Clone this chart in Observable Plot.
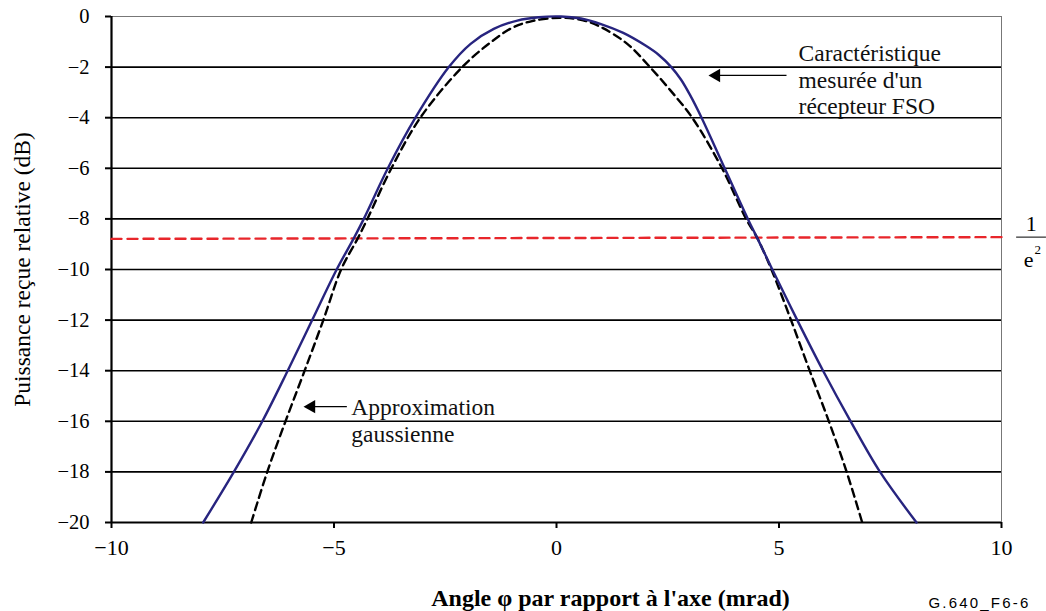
<!DOCTYPE html>
<html>
<head>
<meta charset="utf-8">
<script src="https://cdn.jsdelivr.net/npm/d3@7"></script>
<script src="https://cdn.jsdelivr.net/npm/@observablehq/plot@0.6"></script>
<style>
  html, body { margin: 0; padding: 0; background: white; }
  #chart svg text { font-family: "Liberation Serif", "Times New Roman", serif; }
  #chart svg text.sans { font-family: "Liberation Sans", Arial, sans-serif; letter-spacing: 2.2px; }
</style>
</head>
<body>
<div id="chart"></div>
<script>
// Measured characteristic of an FSO receiver (solid blue)
const measuredX = [-7.94,-7.25,-6.61,-6.04,-5.49,-4.94,-4.55,-4.33,-3.79,-3.17,-2.42,-1.93,-1.41,-0.88,-0.4,0.1,0.55,1.0,1.5,2.0,2.3,2.58,2.8,3.0,3.26,3.78,4.30,4.51,4.85,5.41,5.99,6.61,7.27,8.09];
const measuredY = [-20,-18,-16,-14,-12,-10,-8.75,-8,-6,-4,-2,-1.08,-0.49,-0.16,-0.03,0,-0.08,-0.3,-0.65,-1.15,-1.52,-2,-2.5,-3.1,-4,-6,-8,-8.75,-10,-12,-14,-16,-18,-20];
// Gaussian approximation (dashed black)
const gaussX = [-6.86,-6.5,-6.09,-5.66,-5.24,-4.84,-4.46,-4.25,-3.71,-3.06,-2.12,-1.5,-1.0,-0.55,0.1,0.6,1.0,1.59,2.10,2.56,3.05,3.72,4.26,4.51,4.83,5.27,5.69,6.12,6.52,6.87];
const gaussY = [-20,-18,-16,-14,-12,-10,-8.75,-8,-6,-4,-2,-1.05,-0.45,-0.18,-0.05,-0.15,-0.42,-1.08,-2,-2.92,-4,-6,-8,-8.75,-10,-12,-14,-16,-18,-20];
// 1/e^2 level (red dashed)
const levelX = [-10, 10];
const levelY = [-8.79, -8.72];
// Ticks
const xTicks = [-10, -5, 0, 5, 10];
const yTicks = [0, -2, -4, -6, -8, -10, -12, -14, -16, -18, -20];
// Texts
const xTitle = "Angle φ par rapport à l'axe (mrad)";
const yTitle = "Puissance reçue relative (dB)";
const labelMeasured = "Caractéristique\nmesurée d'un\nrécepteur FSO";
const labelGauss = "Approximation\ngaussienne";
const figId = "G.640_F6-6";

const measured = measuredX.map((x, i) => ({x, y: measuredY[i]}));
const gauss = gaussX.map((x, i) => ({x, y: gaussY[i]}));
const level = levelX.map((x, i) => ({x, y: levelY[i]}));

const serif = "Liberation Serif";

const chart = Plot.plot({
  width: 1046,
  height: 611,
  marginLeft: 111,
  marginRight: 45,
  marginTop: 16,
  marginBottom: 89,
  style: {fontFamily: serif, fontSize: "20px", background: "white", color: "black", overflow: "visible"},
  x: {domain: [-10, 10]},
  y: {domain: [-20, 0]},
  marks: [
    Plot.ruleY(yTicks.filter(d => d !== 0 && d !== -20), {stroke: "black", strokeWidth: 1.6}),
    Plot.ruleY([0], {stroke: "#777", strokeWidth: 1}),
    Plot.ruleX([10], {stroke: "#777", strokeWidth: 1}),
    Plot.ruleY([-20], {stroke: "black", strokeWidth: 2.2}),
    Plot.ruleX([-10], {stroke: "black", strokeWidth: 2.2}),
    Plot.axisX({ticks: xTicks, tickSize: 6, tickPadding: 11, strokeWidth: 2, fontSize: 22, label: null}),
    Plot.axisY({ticks: yTicks, tickSize: 6, tickPadding: 16, strokeWidth: 2, fontSize: 20.5, label: null}),
    Plot.line(level, {x: "x", y: "y", stroke: "#e8262b", strokeWidth: 2.4, strokeDasharray: "10,6"}),
    Plot.line(gauss, {x: "x", y: "y", stroke: "black", strokeWidth: 2.4, strokeDasharray: "8,5", curve: "catmull-rom"}),
    Plot.line(measured, {x: "x", y: "y", stroke: "#27247f", strokeWidth: 2.4, curve: "catmull-rom"}),
    Plot.text([labelMeasured], {x: 5.44, y: -3.87, textAnchor: "start", lineAnchor: "bottom", lineHeight: 1.13, fontSize: 23.5, fill: "#111"}),
    Plot.ruleY([-2.33], {x1: 5.18, x2: 3.59, stroke: "black", strokeWidth: 1.3}),
    Plot.dot([0], {x: 3.59, y: -2.33, symbol: "triangle", rotate: -90, r: 5, fill: "black", stroke: "none"}),
    Plot.text([labelGauss], {x: -4.61, y: -16.83, textAnchor: "start", lineAnchor: "bottom", lineHeight: 1.15, fontSize: 23.5, fill: "#111"}),
    Plot.ruleY([-15.42], {x1: -4.70, x2: -5.51, stroke: "black", strokeWidth: 1.3}),
    Plot.dot([0], {x: -5.51, y: -15.42, symbol: "triangle", rotate: -90, r: 5, fill: "black", stroke: "none"}),
    Plot.text(["1"], {x: 10.67, y: -8.46, textAnchor: "middle", lineAnchor: "bottom", fontSize: 22}),
    Plot.ruleY([-8.72], {x1: 10.34, x2: 11.01, stroke: "black", strokeWidth: 1}),
    Plot.text(["e"], {x: 10.61, y: -9.92, textAnchor: "middle", lineAnchor: "bottom", fontSize: 22}),
    Plot.text(["2"], {x: 10.74, y: -9.37, textAnchor: "start", lineAnchor: "bottom", fontSize: 13}),
    Plot.text([yTitle], {frameAnchor: "left", dx: -89, rotate: -90, fontSize: 23.5, textAnchor: "middle"}),
    Plot.text([xTitle], {frameAnchor: "bottom", dx: 54, dy: 83, lineAnchor: "bottom", fontSize: 24, fontWeight: "bold"}),
    Plot.text([figId], {frameAnchor: "bottom-right", dx: 29, dy: 85, lineAnchor: "bottom", textAnchor: "end", fontSize: 15})
  ]
});
chart.querySelectorAll("text").forEach(t => { if (t.textContent === figId) t.classList.add("sans"); });
document.getElementById("chart").appendChild(chart);
</script>
</body>
</html>
